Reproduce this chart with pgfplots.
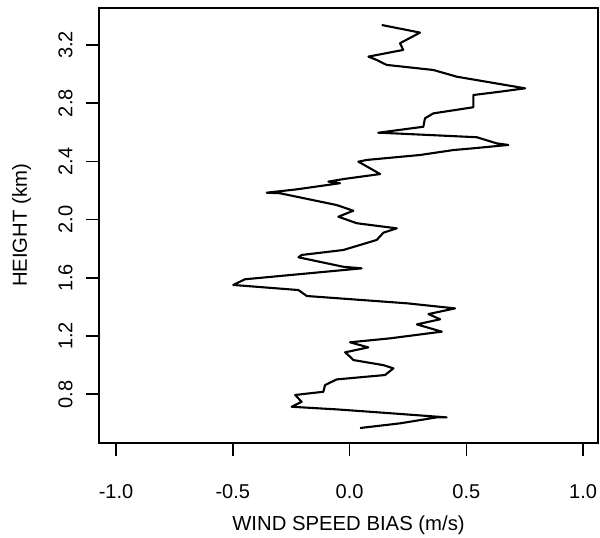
\documentclass[border=0pt]{standalone}
\usepackage{fontspec}
\setmainfont{Liberation Sans}
\usepackage{pgfplots}
\pgfplotsset{compat=1.18}
\begin{document}
\begin{tikzpicture}
\begin{axis}[
  scale only axis,
  width=499pt, height=435pt,
  xmin=-1.073, xmax=1.064,
  ymin=0.465, ymax=3.454,
  axis line style={line width=1.6pt},
  xtick={-1,-0.5,0,0.5,1},
  ytick={0.8,1.2,1.6,2.0,2.4,2.8,3.2},
  tick align=outside,
  major tick length=12.5pt,
  tick style={line width=1.6pt,black},
  xtick pos=bottom, ytick pos=left,
  /pgf/number format/assume math mode=true,
  /pgf/number format/fixed,
  /pgf/number format/fixed zerofill,
  /pgf/number format/precision=1,
  ticklabel style={font=\fontsize{20}{23}\selectfont},
  label style={font=\fontsize{20.3}{23}\selectfont},
  xticklabel style={anchor=base, yshift=-43pt},
  yticklabel style={rotate=90, anchor=base, yshift=14pt},
  xlabel={WIND SPEED BIAS (m/s)},
  ylabel={HEIGHT (km)},
  xlabel style={at={(axis description cs:0.5,0)}, anchor=base, yshift=-87pt},
  ylabel style={at={(axis description cs:0,0.5)}, anchor=base, yshift=72pt},
]
\addplot[black, line width=2.1pt, line join=round] coordinates {
(0.045,0.568) (0.216,0.600) (0.373,0.641) (0.416,0.641)
(0.145,0.673) (-0.055,0.696) (-0.248,0.714) (-0.205,0.748)
(-0.233,0.795) (-0.112,0.817) (-0.105,0.863) (-0.055,0.902)
(0.152,0.932) (0.188,0.978) (0.145,1.000) (0.016,1.035)
(0.002,1.058) (-0.019,1.088) (0.080,1.122) (0.002,1.157)
(0.173,1.184) (0.395,1.230) (0.288,1.280) (0.388,1.315)
(0.338,1.351) (0.452,1.390) (0.245,1.425) (-0.183,1.475)
(-0.219,1.516) (-0.498,1.551) (-0.448,1.590) (0.052,1.665)
(-0.027,1.676) (-0.219,1.741) (-0.205,1.757) (-0.027,1.791)
(0.116,1.860) (0.145,1.910) (0.202,1.940) (0.031,1.975)
(-0.048,2.020) (0.016,2.061) (-0.055,2.100) (-0.298,2.181)
(-0.355,2.185) (-0.226,2.208) (-0.041,2.250) (-0.091,2.261)
(-0.020,2.280) (0.131,2.313) (0.038,2.398) (0.074,2.410)
(0.302,2.444) (0.445,2.478) (0.530,2.490) (0.680,2.513)
(0.630,2.524) (0.545,2.566) (0.131,2.597) (0.123,2.597)
(0.316,2.638) (0.323,2.696) (0.359,2.730) (0.530,2.772)
(0.530,2.856) (0.645,2.879) (0.752,2.902) (0.459,2.982)
(0.359,3.028) (0.159,3.063) (0.116,3.097) (0.081,3.120)
(0.230,3.166) (0.216,3.212) (0.302,3.285) (0.138,3.337)
};
\end{axis}
\pgfresetboundingbox
\path ([xshift=-99pt,yshift=-95pt]current axis.south west) rectangle ([xshift=2pt,yshift=8pt]current axis.north east);
\end{tikzpicture}
\end{document}
